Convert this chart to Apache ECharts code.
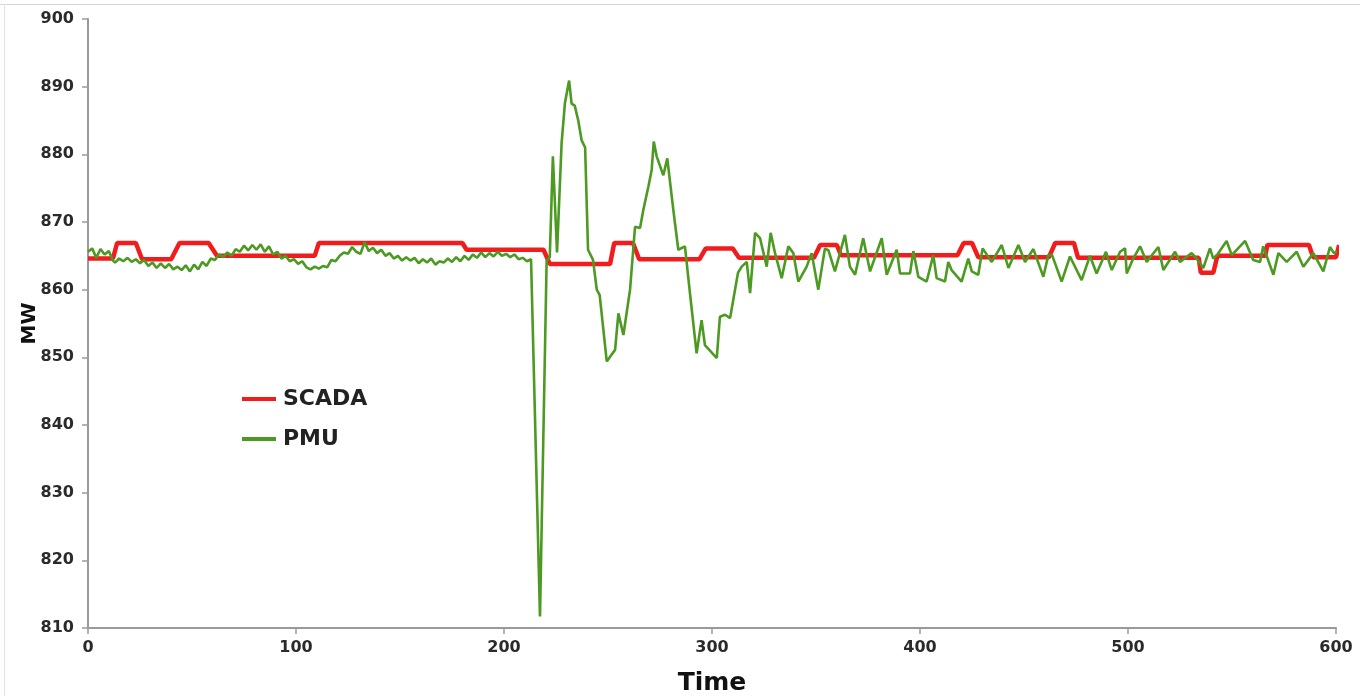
<!DOCTYPE html>
<html>
<head>
<meta charset="utf-8">
<script src="https://cdn.jsdelivr.net/npm/echarts@6/dist/echarts.min.js"></script>
<style>
html,body{margin:0;padding:0;background:#fff;}
#chart{width:1360px;height:696px;}
</style>
</head>
<body>
<div id="chart"></div>
<script>
// Tick labels
const xTicks = [0, 100, 200, 300, 400, 500, 600];
const yTicks = [810, 820, 830, 840, 850, 860, 870, 880, 890, 900];

// SCADA (step-like)
const scadaT = [0, 12, 14, 23, 26, 40, 44, 58, 62, 109, 111, 180, 182, 219, 222, 251, 253, 262, 265, 294, 297, 310, 313, 349, 352, 360, 362, 418, 421, 425, 428, 462, 465, 474, 476, 534, 535, 541, 543, 566, 567, 587, 589, 600, 601.5];
const scadaV = [864.6, 864.6, 866.9, 866.9, 864.5, 864.5, 866.9, 866.9, 865.0, 865.0, 866.9, 866.9, 865.9, 865.9, 863.8, 863.8, 866.9, 866.9, 864.5, 864.5, 866.1, 866.1, 864.7, 864.7, 866.6, 866.6, 865.1, 865.1, 866.9, 866.9, 864.8, 864.8, 866.9, 866.9, 864.7, 864.7, 862.5, 862.5, 865.0, 865.0, 866.6, 866.6, 864.8, 864.8, 866.6];

// PMU
const pmuT = [0, 2, 4, 6, 8, 10, 12, 13, 15, 17, 19, 21, 23, 25, 27, 29, 31, 33, 35, 37, 39, 41, 43, 45, 47, 49, 51, 53, 55, 57, 59, 61, 63, 65, 67, 69, 71, 73, 75, 77, 79, 81, 83, 85, 87, 89, 91, 93, 95, 97, 99, 101, 103, 105, 107, 109, 111, 113, 115, 117, 119, 121, 123, 125, 127, 129, 131, 133, 135, 137, 139, 141, 143, 145, 147, 149, 151, 153, 155, 157, 159, 161, 163, 165, 167, 169, 171, 173, 175, 177, 179, 181, 183, 185, 187, 189, 191, 193, 195, 197, 199, 201, 203, 205, 207, 209, 211, 213,
  217.3, 220.5, 222, 223.5, 224.2, 225.5, 227.7, 229.3, 231.3, 232.5, 234, 235.7, 237.3, 239, 240.4, 242.8, 244.6, 246, 249.4, 251.5, 253.4, 255, 257.4, 260.6, 263, 265.4, 267, 269.4, 271, 272, 273.4, 276.6, 278.5, 281.4, 283.8, 287, 289.4, 292.6, 295, 296.6, 302.3,
  303.8, 306.3, 308.7, 312.5, 314.3, 316.7, 318.3, 320.7, 323.1, 326.3, 328.2, 330.3, 333.5, 336.7, 339.1, 341.5, 345.5, 347.9, 351.1, 354.3, 356, 359.1, 363.9, 366.3, 368.8, 372.7, 376, 381.6, 384, 388.8, 390.4, 395.2, 396.8, 399.2, 403.2, 406.4, 408, 412, 413.6, 415.2, 420, 423.2, 424.9, 428, 430.1, 434.5, 439.3, 442.5, 447.3, 450.5, 454.5, 459.3, 461.7, 463.5, 468.1, 472.1, 477.7, 481.7, 484.9, 489.4, 492.2, 496.2, 498.6, 499.4, 502.5, 505.8, 509, 514.6, 517, 522.6, 525, 530.6, 533, 536.2, 539.4, 541, 543, 547.4, 549.9, 556.3, 560.2, 563.5, 565, 569.9, 572.3, 576.3, 581.1, 584.3, 589.1, 593.9, 597.1, 599, 600.5];
const pmuV = [865.6, 866.1, 864.7, 866.0, 865.2, 865.7, 864.3, 864.0, 864.6, 864.2, 864.7, 864.1, 864.5, 863.9, 864.4, 863.5, 864.0, 863.2, 863.9, 863.2, 863.8, 863.0, 863.4, 862.9, 863.6, 862.7, 863.7, 863.0, 864.1, 863.5, 864.6, 864.4, 865.2, 864.8, 865.5, 865.0, 866.0, 865.6, 866.5, 865.8, 866.6, 865.9, 866.7, 865.6, 866.4, 865.2, 865.6, 864.6, 865.0, 864.2, 864.5, 863.8, 864.2, 863.3, 863.0, 863.4, 863.1, 863.5, 863.3, 864.4, 864.2, 865.0, 865.5, 865.3, 866.3, 865.6, 865.3, 867.0, 865.7, 866.2, 865.4, 865.9, 865.0, 865.4, 864.6, 865.0, 864.3, 864.8, 864.3, 864.7, 863.9, 864.5, 864.0, 864.6, 863.7, 864.2, 864.0, 864.6, 864.1, 864.8, 864.2, 865.0, 864.4, 865.2, 864.7, 865.5, 864.8, 865.4, 864.9, 865.6, 865.0, 865.3, 864.8, 865.2, 864.5, 864.7, 864.2, 864.5,
  811.7, 864.3, 864.8, 879.7, 879.5, 865.5, 881.7, 887.6, 890.9, 887.5, 887.2, 885.0, 882.1, 881.0, 865.9, 864.4, 860.0, 859.2, 849.4, 850.3, 851.1, 856.5, 853.3, 860.0, 869.3, 869.1, 871.8, 875.2, 877.7, 881.9, 879.7, 876.9, 879.4, 871.8, 865.9, 866.4, 859.5, 850.6, 855.5, 851.8, 849.9,
  856.0, 856.3, 855.8, 862.5, 863.4, 864.1, 859.5, 868.4, 867.6, 863.4, 868.4, 865.4, 861.7, 866.4, 865.4, 861.2, 863.4, 865.4, 860.0, 866.1, 865.8, 862.7, 868.1, 863.4, 862.2, 867.6, 862.7, 867.6, 862.2, 865.9, 862.4, 862.4, 865.7, 861.9, 861.2, 865.1, 861.7, 861.2, 864.1, 862.9, 861.2, 864.6, 862.7, 862.2, 866.1, 864.1, 866.6, 863.2, 866.6, 864.1, 866.0, 861.9, 865.1, 865.1, 861.2, 864.9, 861.4, 865.0, 862.4, 865.6, 862.9, 865.6, 866.1, 862.4, 864.6, 866.4, 864.1, 866.3, 862.9, 865.6, 864.1, 865.4, 864.6, 863.2, 866.1, 864.6, 865.2, 867.2, 865.1, 867.2, 864.4, 864.1, 866.4, 862.2, 865.4, 864.1, 865.6, 863.4, 865.4, 862.7, 866.3, 865.4, 865.6];

const scadaData = scadaT.map((t, i) => [t, scadaV[i]]);
const pmuData = pmuT.map((t, i) => [t, pmuV[i]]);

const chart = echarts.init(document.getElementById('chart'));
const fam = 'DejaVu Sans, Verdana, sans-serif';
chart.setOption({
  animation: false,
  backgroundColor: '#fff',
  graphic: [
    {type: 'line', shape: {x1: 0, y1: 4.5, x2: 1360, y2: 4.5}, style: {stroke: '#d6d6d6', lineWidth: 1}},
    {type: 'line', shape: {x1: 4.5, y1: 4, x2: 4.5, y2: 696}, style: {stroke: '#e2e2e2', lineWidth: 1}}
  ],
  grid: {left: 88, right: 24, top: 19, bottom: 68, containLabel: false, outerBoundsMode: 'none'},
  legend: {
    orient: 'vertical', left: 237, top: 383,
    itemWidth: 34, itemHeight: 4, itemGap: 18,
    icon: 'rect',
    textStyle: {fontFamily: fam, fontWeight: 'bold', fontSize: 22, color: '#222', padding: [0, 0, 0, 2]},
    data: ['SCADA', 'PMU']
  },
  xAxis: {
    type: 'value', min: 0, max: 600, interval: 100,
    name: 'Time', nameLocation: 'middle', nameGap: 43, nameMoveOverlap: false,
    nameTextStyle: {fontFamily: fam, fontWeight: 'bold', fontSize: 25, color: '#111'},
    axisLine: {lineStyle: {color: '#9a9a9a', width: 2}},
    axisTick: {show: true, length: 6, lineStyle: {color: '#9a9a9a', width: 1.5}},
    axisLabel: {fontFamily: fam, fontWeight: 'bold', fontSize: 16, color: '#2a2a2a', margin: 12,
      formatter: v => xTicks.includes(v) ? String(v) : ''},
    splitLine: {show: false}
  },
  yAxis: {
    type: 'value', min: 810, max: 900, interval: 10,
    name: 'MW', nameLocation: 'middle', nameGap: 48, nameRotate: 90, nameMoveOverlap: false,
    nameTextStyle: {fontFamily: fam, fontWeight: 'bold', fontSize: 20, color: '#111'},
    axisLine: {show: true, lineStyle: {color: '#9a9a9a', width: 2}},
    axisTick: {show: true, length: 6, lineStyle: {color: '#9a9a9a', width: 1.5}},
    axisLabel: {fontFamily: fam, fontWeight: 'bold', fontSize: 16, color: '#2a2a2a', margin: 14,
      formatter: v => yTicks.includes(v) ? String(v) : ''},
    splitLine: {show: false}
  },
  series: [
    {
      name: 'SCADA', type: 'line', data: scadaData, showSymbol: false, symbol: 'none', clip: false,
      lineStyle: {color: '#f21c1c', width: 4.5}, itemStyle: {color: '#f21c1c'}, z: 2
    },
    {
      name: 'PMU', type: 'line', data: pmuData, showSymbol: false, symbol: 'none', clip: false,
      lineStyle: {color: '#4c9a22', width: 2.6}, itemStyle: {color: '#4c9a22'}, z: 3
    }
  ]
});
</script>
</body>
</html>
